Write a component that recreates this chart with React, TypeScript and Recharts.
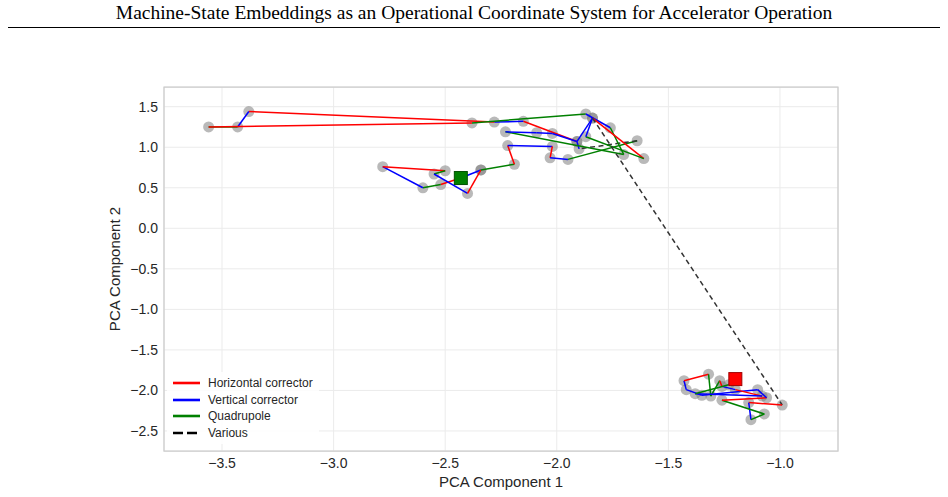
import React from 'react'
import { ComposedChart, Scatter, XAxis, YAxis, CartesianGrid, ReferenceArea } from 'recharts'

// PCA coordinates of each recorded machine state, in visit order
const pc1 = [
  -2.34, -2.43, -2.52, -2.60, -2.78, -2.50, -2.55, -2.40, -2.34, -2.19,
  -2.22, -2.02, -2.03, -1.95, -1.64, -1.90, -1.91, -2.15, -2.28, -3.38,
  -3.43, -3.56, -2.38, -1.87, -1.76, -1.70, -2.23, -2.09, -2.02, -1.91,
  -1.84, -1.61, -1.87, -1.84, -0.99, -1.14, -1.13, -1.07, -1.26, -1.06,
  -1.10, -1.35, -1.42, -1.43, -1.32, -1.31, -1.27, -1.26, -1.20, -1.08,
  -1.38, -1.23, -1.20,
]
const pc2 = [
  0.72, 0.62, 0.54, 0.50, 0.76, 0.71, 0.67, 0.43, 0.72, 0.79,
  1.02, 1.01, 0.87, 0.85, 1.08, 0.98, 1.07, 1.32, 1.31, 1.44,
  1.25, 1.25, 1.30, 1.41, 1.24, 0.91, 1.19, 1.18, 1.17, 1.07,
  1.36, 0.86, 1.13, 1.36, -2.18, -2.15, -2.36, -2.29, -2.12, -2.09,
  -1.99, -2.06, -1.99, -1.88, -1.80, -2.07, -1.88, -1.95, -1.99, -2.07,
  -2.04, -1.93, -1.86,
]
// which actuator group moved between state i and i + 1
// H = horizontal corrector, V = vertical corrector, Q = quadrupole, X = various
const steps = [
  'V', 'H', 'Q', 'V', 'H', 'Q', 'V', 'H', 'Q', 'H',
  'V', 'H', 'V', 'Q', 'X', 'V', 'H', 'V', 'H', 'V',
  'Q', 'H', 'Q', 'V', 'Q', 'Q', 'V', 'V', 'V', 'V',
  'H', 'Q', 'V', 'X', 'H', 'V', 'Q', 'Q', 'H', 'V',
  'V', 'V', 'V', 'H', 'Q', 'Q', 'H', 'V', 'H', 'V',
  'Q', 'V',
]

const startState = [{ x: -2.43, y: 0.62 }]
const endState = [{ x: -1.2, y: -1.86 }]

const xTicks = [-3.5, -3, -2.5, -2, -1.5, -1]
const yTicks = [1.5, 1, 0.5, 0, -0.5, -1, -1.5, -2, -2.5]

const legendItems = [
  { key: 'H', label: 'Horizontal corrector' },
  { key: 'V', label: 'Vertical corrector' },
  { key: 'Q', label: 'Quadrupole' },
  { key: 'X', label: 'Various' },
]

const stepStyle: Record<string, { stroke: string; dash?: string }> = {
  H: { stroke: '#ff0000' },
  V: { stroke: '#0000ff' },
  Q: { stroke: '#008000' },
  X: { stroke: '#333333', dash: '5 3.5' },
}

const states = pc1.map((x, i) => ({ x, y: pc2[i] }))
const segments = steps.map((kind, i) => ({ kind, pts: [states[i], states[i + 1]] }))

const fmt = (v: number) => (v < 0 ? '\u2212' : '') + Math.abs(v).toFixed(1)
const noDot = () => <g />
const sans = '"Liberation Sans", Arial, sans-serif'

const Square = (color: string, edge: string) => (p: any) => (
  <rect x={p.cx - 6.5} y={p.cy - 6.5} width={13} height={13} fill={color} stroke={edge} strokeWidth={1} />
)

const LegendBox = () => (
  <div style={{ position: 'absolute', left: 167, top: 372, background: 'rgba(255,255,255,0.85)', padding: '3px 6px', fontFamily: sans, fontSize: 12, color: '#262626' }}>
    {legendItems.map((it) => (
      <div key={it.key} style={{ display: 'flex', alignItems: 'center', height: 16.6 }}>
        <svg width={27} height={6} style={{ marginRight: 8 }}>
          <line x1={0} y1={3} x2={27} y2={3} stroke={it.key === 'X' ? '#000' : stepStyle[it.key].stroke} strokeWidth={2.6} strokeDasharray={it.key === 'X' ? '10 4' : undefined} />
        </svg>
        <span>{it.label}</span>
      </div>
    ))}
  </div>
)

export default function App() {
  const tickStyle = { fontSize: 14, fill: '#262626', fontFamily: sans }
  return (
    <div style={{ position: 'absolute', left: 0, top: 0, width: 948, height: 497, background: '#fff' }}>
      <div style={{ position: 'absolute', left: 0, top: 2, width: 948, textAlign: 'center', fontFamily: '"Liberation Serif", "Times New Roman", serif', fontSize: 19.5, color: '#000' }}>
        Machine-State Embeddings as an Operational Coordinate System for Accelerator Operation
      </div>
      <div style={{ position: 'absolute', left: 8, top: 27, width: 932, borderTop: '1.3px solid #000' }} />
      <div style={{ position: 'absolute', left: 0, top: 0 }}>
        <ComposedChart width={948} height={497} margin={{ top: 87, right: 110, bottom: 0, left: 0 }}>
          <CartesianGrid stroke="#ebebeb" strokeWidth={1} />
          <XAxis
            type="number"
            dataKey="x"
            domain={[-3.76, -0.74]}
            ticks={xTicks}
            tickFormatter={fmt}
            tick={tickStyle}
            tickLine={false}
            axisLine={false}
            tickSize={0}
            tickMargin={7}
            height={46}
            allowDataOverflow
            label={{
              content: ({ viewBox }: any) => (
                <text x={viewBox.x + viewBox.width / 2} y={viewBox.y + 36} textAnchor="middle" style={{ ...tickStyle, fontSize: 15 }}>
                  PCA Component 1
                </text>
              ),
            }}
          />
          <YAxis
            type="number"
            dataKey="y"
            domain={[-2.747, 1.743]}
            ticks={yTicks}
            tickFormatter={fmt}
            tick={tickStyle}
            tickLine={false}
            axisLine={false}
            tickSize={0}
            tickMargin={6}
            width={164}
            allowDataOverflow
            label={{
              content: ({ viewBox }: any) => {
                const cx = 120
                const cy = viewBox.y + viewBox.height / 2
                return (
                  <text x={cx} y={cy} textAnchor="middle" transform={`rotate(-90, ${cx}, ${cy})`} style={{ ...tickStyle, fontSize: 15 }}>
                    PCA Component 2
                  </text>
                )
              },
            }}
          />
          <ReferenceArea x1={-3.76} x2={-0.74} y1={-2.747} y2={1.743} fill="none" stroke="#cccccc" strokeWidth={1.25} ifOverflow="visible" />
          <Scatter
            data={states}
            isAnimationActive={false}
            legendType="none"
            shape={(p: any) => <circle cx={p.cx} cy={p.cy} r={5.5} fill="#808080" fillOpacity={0.55} />}
          />
          {segments.map((s, i) => (
            <Scatter
              key={i}
              data={s.pts}
              isAnimationActive={false}
              legendType="none"
              shape={noDot}
              line={{ stroke: stepStyle[s.kind].stroke, strokeWidth: 1.5, strokeDasharray: stepStyle[s.kind].dash }}
            />
          ))}
          <Scatter data={startState} isAnimationActive={false} legendType="none" shape={Square('#008000', '#005000')} />
          <Scatter data={endState} isAnimationActive={false} legendType="none" shape={Square('#ff0000', '#a00000')} />
        </ComposedChart>
      </div>
      <LegendBox />
    </div>
  )
}
